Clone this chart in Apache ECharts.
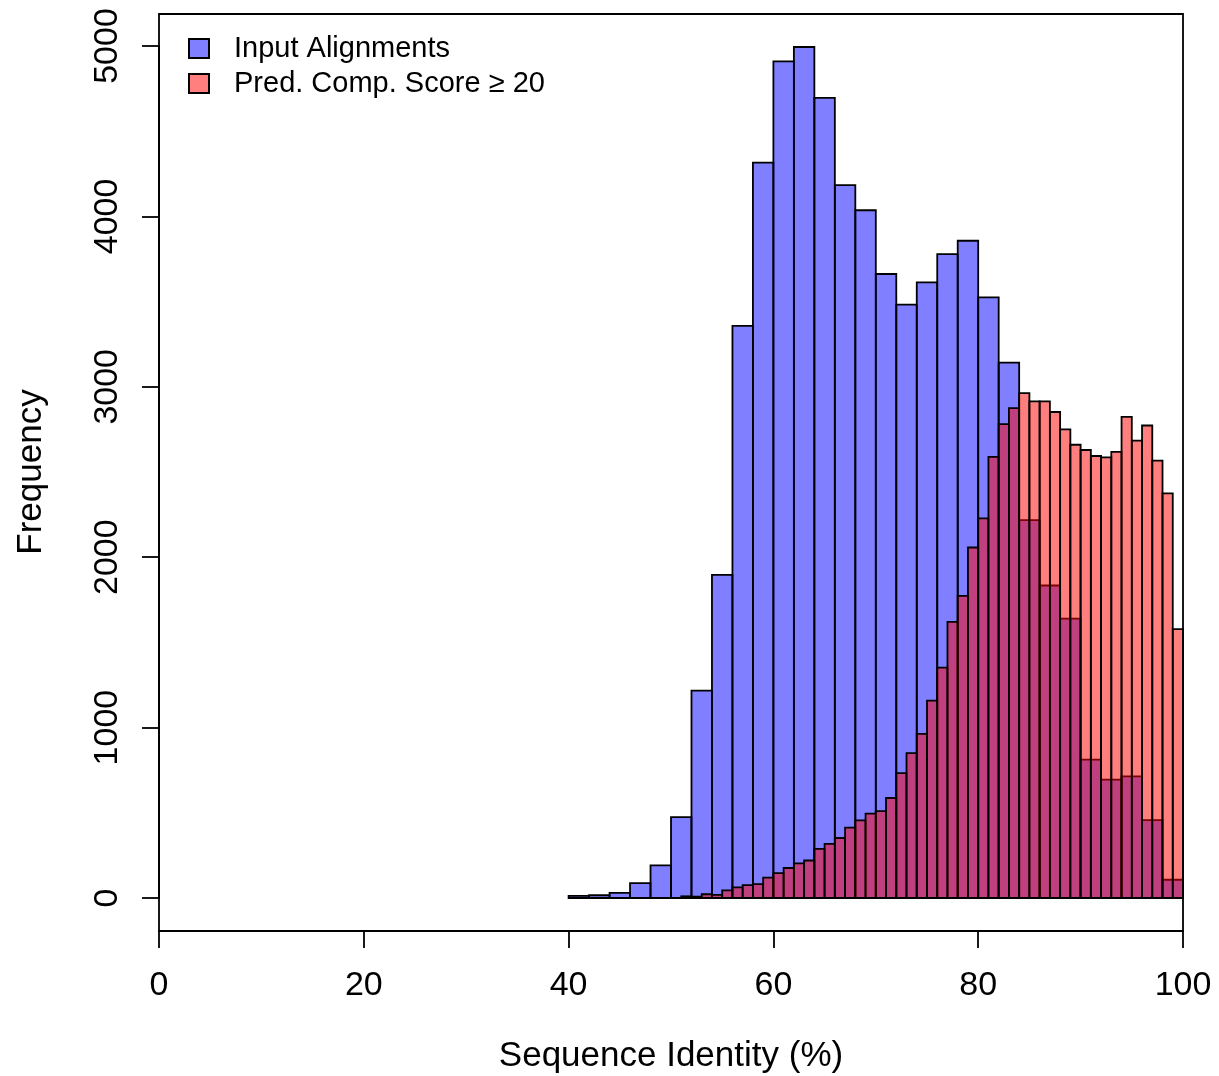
<!DOCTYPE html>
<html>
<head>
<meta charset="utf-8">
<script src="https://cdn.jsdelivr.net/npm/echarts@6/dist/echarts.min.js"></script>
<style>
  html, body { margin: 0; padding: 0; background: #fff; }
  #chart { width: 1219px; height: 1076px; }
</style>
</head>
<body>
<div id="chart"></div>
<script>
// bin edges and counts
var blueBreaks = [40, 42, 44, 46, 48, 50, 52, 54, 56, 58, 60, 62, 64, 66, 68, 70,
    72, 74, 76, 78, 80, 82, 84, 86, 88, 90, 92, 94, 96, 98, 100];
var blueCounts = [12, 16, 30, 87, 192, 475, 1217, 1896, 3357, 4315, 4910, 4994, 4695, 4184, 4036,
    3662, 3482, 3613, 3779, 3857, 3525, 3142, 2217, 1834, 1639, 812, 695, 714, 457, 107];

var redBreaks = [51, 52, 53, 54, 55, 56, 57, 58, 59, 60, 61, 62, 63, 64, 65, 66, 67, 68, 69, 70,
    71, 72, 73, 74, 75, 76, 77, 78, 79, 80, 81, 82, 83, 84, 85, 86, 87, 88, 89, 90,
    91, 92, 93, 94, 95, 96, 97, 98, 99, 100];
var redCounts = [10, 8, 22, 18, 45, 62, 75, 82, 120, 146, 176, 203, 220, 288, 318, 352, 413, 455, 495,
    510, 587, 733, 850, 963, 1158, 1352, 1621, 1773, 2057, 2228, 2589, 2781, 2875, 2963, 2914,
    2914, 2852, 2750, 2660, 2629, 2594, 2586, 2618, 2824, 2684, 2773, 2567, 2374, 1578];

var xTicks = [0, 20, 40, 60, 80, 100];
var yTicks = [0, 1000, 2000, 3000, 4000, 5000];

var blueName = 'Input Alignments';
var redName = 'Pred. Comp. Score \u2265 20';

function bins(breaks, counts) {
    var out = [];
    for (var i = 0; i < counts.length; i++) {
        out.push([breaks[i], breaks[i + 1], counts[i]]);
    }
    return out;
}

function histItem(fill) {
    return function (params, api) {
        var tl = api.coord([api.value(0), api.value(2)]);
        var br = api.coord([api.value(1), 0]);
        return {
            type: 'rect',
            shape: { x: tl[0], y: tl[1], width: br[0] - tl[0], height: br[1] - tl[1] },
            style: { fill: fill, stroke: '#000', lineWidth: 1.8 }
        };
    };
}

var font = 'Liberation Sans, Arial, Helvetica, sans-serif';
var chart = echarts.init(document.getElementById('chart'));
var option = {
    backgroundColor: '#fff',
    animation: false,
    grid: { left: 159, right: 36, top: 46, bottom: 178, outerBoundsMode: 'none', containLabel: false },
    legend: {
        orient: 'vertical',
        left: 183,
        top: 29,
        itemWidth: 20,
        itemHeight: 19,
        itemGap: 6,
        icon: 'rect',
        textStyle: { fontFamily: font, fontSize: 29, color: '#000', padding: [0, 0, 0, 20] },
        data: [blueName, redName]
    },
    xAxis: {
        type: 'value',
        min: 0,
        max: 100,
        interval: 20,
        offset: 33,
        splitLine: { show: false },
        axisLine: { show: true, onZero: false, lineStyle: { color: '#000', width: 1.8 } },
        axisTick: { show: true, length: 17, lineStyle: { color: '#000', width: 1.8 }, customValues: xTicks },
        axisLabel: { color: '#000', fontFamily: font, fontSize: 34, margin: 38, customValues: xTicks },
        name: 'Sequence Identity (%)',
        nameLocation: 'middle',
        nameGap: 108,
        nameTextStyle: { color: '#000', fontFamily: font, fontSize: 35 }
    },
    yAxis: {
        type: 'value',
        min: 0,
        max: 5000,
        interval: 1000,
        splitLine: { show: false },
        axisLine: { show: true, onZero: false, lineStyle: { color: '#000', width: 1.8 } },
        axisTick: { show: true, length: 17, lineStyle: { color: '#000', width: 1.8 }, customValues: yTicks },
        axisLabel: {
            color: '#000', fontFamily: font, fontSize: 34, margin: 34, rotate: 90, customValues: yTicks,
            formatter: function (v) { return String(v); }
        },
        name: 'Frequency',
        nameLocation: 'middle',
        nameRotate: 90,
        nameGap: 110,
        nameTextStyle: { color: '#000', fontFamily: font, fontSize: 35 }
    },
    graphic: [{
        type: 'rect',
        shape: { x: 159, y: 14, width: 1024, height: 917 },
        style: { fill: 'none', stroke: '#000', lineWidth: 1.8 },
        z: 100
    }],
    series: [
        {
            name: blueName,
            type: 'custom',
            renderItem: histItem('rgba(0,0,255,0.5)'),
            itemStyle: { color: 'rgba(0,0,255,0.5)', borderColor: '#000', borderWidth: 1.5 },
            encode: { x: [0, 1], y: 2 },
            data: bins(blueBreaks, blueCounts)
        },
        {
            name: redName,
            type: 'custom',
            renderItem: histItem('rgba(255,0,0,0.5)'),
            itemStyle: { color: 'rgba(255,0,0,0.5)', borderColor: '#000', borderWidth: 1.5 },
            encode: { x: [0, 1], y: 2 },
            data: bins(redBreaks, redCounts)
        }
    ]
};
chart.setOption(option);
</script>
</body>
</html>
